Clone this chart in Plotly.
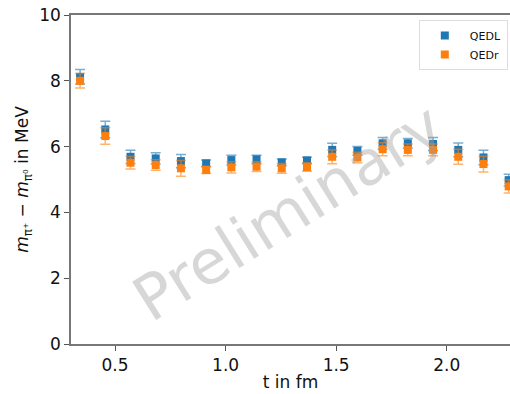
import plotly.graph_objects as go

t_fm = [0.342, 0.456, 0.570, 0.684, 0.798, 0.912, 1.026, 1.140, 1.254, 1.368,
        1.482, 1.596, 1.710, 1.824, 1.938, 2.052, 2.166, 2.280]
qedl = [8.12, 6.52, 5.69, 5.64, 5.56, 5.49, 5.59, 5.61, 5.52, 5.58,
        5.90, 5.87, 6.10, 6.10, 6.08, 5.90, 5.67, 4.98]
qedl_err = [0.22, 0.25, 0.20, 0.17, 0.20, 0.10, 0.15, 0.13, 0.10, 0.10,
            0.20, 0.13, 0.18, 0.15, 0.20, 0.21, 0.22, 0.18]
qedr = [8.00, 6.32, 5.51, 5.44, 5.34, 5.29, 5.37, 5.39, 5.34, 5.38,
        5.69, 5.67, 5.92, 5.90, 5.90, 5.69, 5.47, 4.79]
qedr_err = [0.22, 0.25, 0.19, 0.16, 0.24, 0.11, 0.17, 0.15, 0.15, 0.13,
            0.21, 0.16, 0.20, 0.18, 0.18, 0.23, 0.24, 0.20]

x_ticks = [0.5, 1.0, 1.5, 2.0]
x_tick_labels = ["0.5", "1.0", "1.5", "2.0"]
y_ticks = [0, 2, 4, 6, 8, 10]

blue = "#1f77b4"
orange = "#ff7f0e"

fig = go.Figure()
for name, y, err, col, rgba in [
    ("QEDL", qedl, qedl_err, blue, "rgba(31,119,180,0.6)"),
    ("QEDr", qedr, qedr_err, orange, "rgba(255,127,14,0.6)"),
]:
    fig.add_trace(go.Scatter(
        x=t_fm, y=y, name=name, mode="markers",
        marker=dict(symbol="square", size=8, color=col, line=dict(width=0)),
        error_y=dict(type="data", array=err, visible=True, color=rgba,
                     thickness=1.5, width=5),
        cliponaxis=False,
    ))

fig.add_annotation(
    x=1.28, y=4.0, xref="x", yref="y", text="Preliminary", showarrow=False,
    textangle=-32, font=dict(family="DejaVu Sans", size=62, color="rgba(160,160,160,0.42)"),
)

axis_common = dict(
    showline=True, linecolor="#777777", linewidth=1.5, ticks="outside",
    ticklen=5, tickwidth=1.2, tickcolor="#555555", showgrid=False, zeroline=False,
    automargin=False,
    tickfont=dict(family="DejaVu Sans", size=17, color="#111111"),
)

fig.update_layout(
    width=510, height=394,
    margin=dict(l=71, r=0, t=15, b=50),
    paper_bgcolor="white", plot_bgcolor="white",
    font=dict(family="DejaVu Sans", color="#111111"),
    xaxis=dict(range=[0.301, 2.286], tickvals=x_ticks, ticktext=x_tick_labels,
               mirror=True,
               title=dict(text="t in fm", font=dict(size=17), standoff=2),
               **axis_common),
    yaxis=dict(range=[0, 10], tickvals=y_ticks,
               title=dict(text="<i>m</i><sub>π⁺</sub> − <i>m</i><sub>π⁰</sub> in MeV",
                          font=dict(size=17), standoff=6),
               **axis_common),
    legend=dict(x=0.995, y=0.985, xanchor="right", yanchor="top",
                bgcolor="rgba(255,255,255,0.8)", bordercolor="#dddddd", borderwidth=1,
                font=dict(size=11), itemwidth=40, tracegroupgap=0),
    showlegend=True,
)

fig.write_html("out.html", config={"displayModeBar": False},
               post_script="document.body.style.margin='0';document.body.style.overflow='hidden';")
